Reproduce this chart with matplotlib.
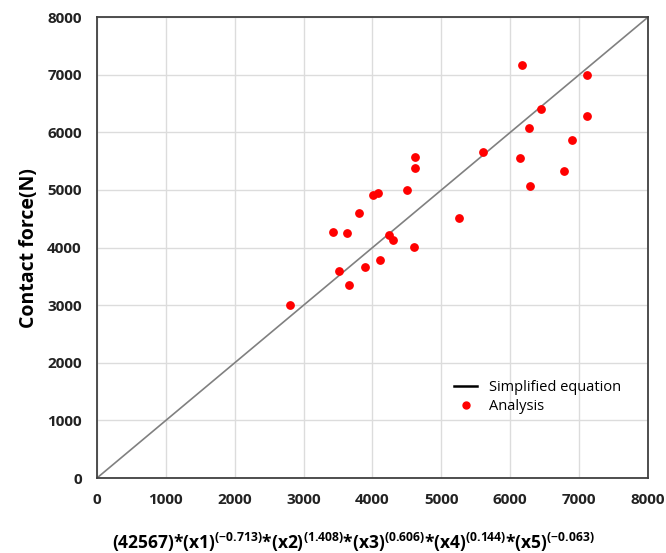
import numpy as np
import matplotlib
matplotlib.use("Agg")
import matplotlib.pyplot as plt

# Simplified equation prediction (x) vs analysis contact force (y)
pred = [2801, 3421, 3517, 3628, 3653, 3803, 3890, 4006, 4074, 4112,
        4233, 4296, 4504, 4606, 4620, 4620, 5254, 5598, 6139, 6173,
        6270, 6284, 6449, 6773, 6894, 7107, 7116]
force = [3003, 4266, 3594, 4253, 3351, 4595, 3669, 4908, 4948, 3779,
         4224, 4132, 5005, 4005, 5578, 5387, 4519, 5658, 5561, 7175,
         6071, 5075, 6401, 5335, 5863, 6285, 7002]
ticks = [0, 1000, 2000, 3000, 4000, 5000, 6000, 7000, 8000]

plt.rcParams['font.family'] = ['Open Sans', 'DejaVu Sans']
plt.rcParams['mathtext.fontset'] = 'custom'
plt.rcParams['mathtext.bf'] = 'Open Sans:bold'
plt.rcParams['mathtext.rm'] = 'Open Sans'
plt.rcParams['mathtext.default'] = 'bf'

fig = plt.figure(figsize=(6.66, 5.53), dpi=100)
ax = fig.add_axes([0.1456, 0.1356, 0.8274, 0.8334])

ax.plot([0, 8000], [0, 8000], color='#808080', lw=1.2, zorder=2)
ax.scatter(pred, force, s=28, color='#ff0000', zorder=3)

# legend proxies (legend line is black while the drawn line is grey)
h1, = ax.plot([], [], color='black', lw=1.8, label='Simplified equation')
h2, = ax.plot([], [], 'o', color='#ff0000', ms=5, label='Analysis')
ax.legend(handles=[h1, h2], loc='lower right', bbox_to_anchor=(0.975, 0.11),
          frameon=False, fontsize=10.5, handlelength=1.6, labelspacing=0.3)

ax.set_xlim(0, 8000)
ax.set_ylim(0, 8000)
ax.set_xticks(ticks)
ax.set_yticks(ticks)
ax.tick_params(length=0, pad=11, labelsize=11, labelcolor='#222222')
for lab in ax.get_xticklabels() + ax.get_yticklabels():
    lab.set_fontweight('bold')
ax.grid(True, color='#dcdcdc', lw=1)
ax.set_axisbelow(True)
for sp in ax.spines.values():
    sp.set_color('#404040')
    sp.set_linewidth(1.3)

ax.set_ylabel('Contact force(N)', fontsize=14, fontweight='bold', labelpad=6)
ax.set_xlabel('(42567)*(x1)$^{(-0.713)}$*(x2)$^{(1.408)}$*(x3)$^{(0.606)}$'
              '*(x4)$^{(0.144)}$*(x5)$^{(-0.063)}$',
              fontsize=12.5, fontweight='bold')
ax.xaxis.set_label_coords(0.465, -0.115)

fig.savefig('out.png', dpi=100)
